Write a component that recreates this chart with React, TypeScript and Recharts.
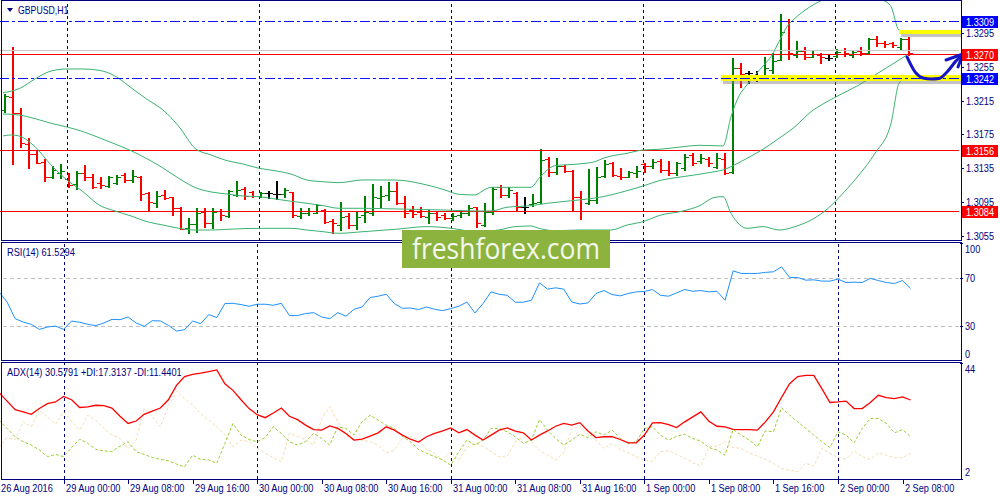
import React from 'react';
import { ComposedChart, Bar, Line, XAxis, YAxis, ReferenceLine } from 'recharts';

const NAVY = '#000080';
const FONT = "'Liberation Sans', Arial, sans-serif";

const symbolTitle = 'GBPUSD,H1';
const rsiTitle = 'RSI(14) 61.5294';
const adxTitle = 'ADX(14) 30.5791 +DI:17.3137 -DI:11.4401';
const watermarkText = 'freshforex.com';

const SLOTS = 120;

const timeLabels = [
  '26 Aug 2016', '29 Aug 00:00', '29 Aug 08:00', '29 Aug 16:00', '30 Aug 00:00',
  '30 Aug 08:00', '30 Aug 16:00', '31 Aug 00:00', '31 Aug 08:00', '31 Aug 16:00',
  '1 Sep 00:00', '1 Sep 08:00', '1 Sep 16:00', '2 Sep 00:00', '2 Sep 08:00',
];
const timeLabelIdx = [0, 8, 16, 24, 32, 40, 48, 56, 64, 72, 80, 88, 96, 104, 112];
const dayStartIdx = [8, 32, 56, 80, 104];

// [open, high, low, close]
const bars: [number, number, number, number][] = [
  [1.32038, 1.32223, 1.32018, 1.32207],
  [1.32195, 1.32786, 1.31400, 1.32006],
  [1.31998, 1.32058, 1.31604, 1.31644],
  [1.31636, 1.31711, 1.31356, 1.31514],
  [1.31514, 1.31565, 1.31407, 1.31415],
  [1.31423, 1.31455, 1.31203, 1.31250],
  [1.31242, 1.31380, 1.31230, 1.31329],
  [1.31289, 1.31400, 1.31230, 1.31321],
  [1.31218, 1.31297, 1.31132, 1.31151],
  [1.31163, 1.31321, 1.31108, 1.31289],
  [1.31289, 1.31388, 1.31210, 1.31242],
  [1.31250, 1.31281, 1.31112, 1.31132],
  [1.31171, 1.31250, 1.31120, 1.31151],
  [1.31143, 1.31262, 1.31132, 1.31246],
  [1.31171, 1.31270, 1.31159, 1.31250],
  [1.31270, 1.31289, 1.31191, 1.31210],
  [1.31210, 1.31329, 1.31191, 1.31258],
  [1.31250, 1.31258, 1.30974, 1.31045],
  [1.31053, 1.31065, 1.30848, 1.30954],
  [1.30943, 1.31080, 1.30887, 1.31025],
  [1.31033, 1.31092, 1.30982, 1.31002],
  [1.31006, 1.31013, 1.30797, 1.30876],
  [1.30876, 1.30887, 1.30627, 1.30635],
  [1.30639, 1.30757, 1.30580, 1.30686],
  [1.30690, 1.30883, 1.30592, 1.30824],
  [1.30832, 1.30876, 1.30659, 1.30706],
  [1.30706, 1.30876, 1.30639, 1.30836],
  [1.30848, 1.30864, 1.30738, 1.30797],
  [1.30785, 1.31092, 1.30777, 1.31080],
  [1.31033, 1.31199, 1.31021, 1.31092],
  [1.31104, 1.31124, 1.30990, 1.31021],
  [1.31069, 1.31080, 1.31013, 1.31021],
  [1.31021, 1.31073, 1.31013, 1.31061],
  [1.31053, 1.31084, 1.31002, 1.31053],
  [1.31045, 1.31199, 1.30982, 1.31045],
  [1.31045, 1.31112, 1.31006, 1.31092],
  [1.31069, 1.31073, 1.30777, 1.30797],
  [1.30785, 1.30876, 1.30757, 1.30816],
  [1.30816, 1.30876, 1.30797, 1.30848],
  [1.30824, 1.30927, 1.30816, 1.30915],
  [1.30856, 1.30864, 1.30706, 1.30718],
  [1.30726, 1.30745, 1.30580, 1.30698],
  [1.30678, 1.30954, 1.30619, 1.30777],
  [1.30785, 1.30816, 1.30639, 1.30678],
  [1.30679, 1.30836, 1.30627, 1.30777],
  [1.30797, 1.31025, 1.30718, 1.30836],
  [1.30816, 1.31163, 1.30797, 1.31013],
  [1.30994, 1.31139, 1.30887, 1.31021],
  [1.31033, 1.31191, 1.30974, 1.31084],
  [1.31084, 1.31191, 1.30927, 1.30943],
  [1.30935, 1.31025, 1.30777, 1.30816],
  [1.30856, 1.30903, 1.30777, 1.30809],
  [1.30828, 1.30887, 1.30769, 1.30789],
  [1.30777, 1.30856, 1.30706, 1.30816],
  [1.30816, 1.30836, 1.30738, 1.30769],
  [1.30797, 1.30816, 1.30745, 1.30757],
  [1.30757, 1.30816, 1.30738, 1.30789],
  [1.30797, 1.30856, 1.30769, 1.30824],
  [1.30816, 1.30915, 1.30797, 1.30883],
  [1.30887, 1.30895, 1.30651, 1.30698],
  [1.30679, 1.30943, 1.30667, 1.30836],
  [1.30836, 1.31124, 1.30809, 1.31100],
  [1.31124, 1.31151, 1.31013, 1.31033],
  [1.31033, 1.31124, 1.31013, 1.31092],
  [1.31061, 1.31065, 1.30848, 1.30887],
  [1.30887, 1.31006, 1.30824, 1.30887],
  [1.30927, 1.31041, 1.30903, 1.30943],
  [1.30954, 1.31573, 1.30935, 1.31447],
  [1.31455, 1.31478, 1.31262, 1.31309],
  [1.31309, 1.31467, 1.31281, 1.31376],
  [1.31376, 1.31388, 1.31309, 1.31321],
  [1.31321, 1.31329, 1.30848, 1.31006],
  [1.31013, 1.31084, 1.30745, 1.30982],
  [1.30943, 1.31340, 1.30927, 1.30974],
  [1.30974, 1.31360, 1.30935, 1.31250],
  [1.31258, 1.31447, 1.31250, 1.31400],
  [1.31415, 1.31427, 1.31258, 1.31270],
  [1.31258, 1.31348, 1.31218, 1.31242],
  [1.31250, 1.31321, 1.31242, 1.31309],
  [1.31297, 1.31376, 1.31250, 1.31321],
  [1.31400, 1.31415, 1.31309, 1.31376],
  [1.31376, 1.31455, 1.31348, 1.31427],
  [1.31439, 1.31455, 1.31309, 1.31329],
  [1.31329, 1.31435, 1.31270, 1.31297],
  [1.31289, 1.31427, 1.31270, 1.31407],
  [1.31348, 1.31514, 1.31329, 1.31486],
  [1.31506, 1.31526, 1.31388, 1.31415],
  [1.31439, 1.31518, 1.31415, 1.31467],
  [1.31455, 1.31486, 1.31376, 1.31415],
  [1.31368, 1.31526, 1.31348, 1.31467],
  [1.31455, 1.31534, 1.31281, 1.31297],
  [1.31309, 1.32656, 1.31297, 1.32530],
  [1.32530, 1.32597, 1.32314, 1.32463],
  [1.32471, 1.32503, 1.32361, 1.32471],
  [1.32440, 1.32503, 1.32385, 1.32440],
  [1.32432, 1.32660, 1.32400, 1.32530],
  [1.32511, 1.32708, 1.32479, 1.32621],
  [1.32629, 1.33173, 1.32629, 1.32964],
  [1.33094, 1.33109, 1.32637, 1.32708],
  [1.32688, 1.32853, 1.32668, 1.32739],
  [1.32739, 1.32779, 1.32637, 1.32668],
  [1.32668, 1.32747, 1.32660, 1.32700],
  [1.32688, 1.32708, 1.32589, 1.32660],
  [1.32656, 1.32688, 1.32629, 1.32656],
  [1.32676, 1.32755, 1.32668, 1.32727],
  [1.32747, 1.32767, 1.32676, 1.32708],
  [1.32688, 1.32747, 1.32668, 1.32727],
  [1.32739, 1.32779, 1.32684, 1.32715],
  [1.32715, 1.32885, 1.32708, 1.32873],
  [1.32873, 1.32913, 1.32794, 1.32834],
  [1.32834, 1.32857, 1.32779, 1.32814],
  [1.32826, 1.32846, 1.32786, 1.32806],
  [1.32779, 1.32885, 1.32747, 1.32873],
  [1.32873, 1.32905, 1.32688, 1.32708],
];

// Bollinger bands, read at bar indices: [index, price]
const bbUpper: [number, number][] = [
  [0, 1.32243], [2, 1.32290], [4, 1.32405], [6, 1.32499], [8, 1.32523], [10, 1.32523],
  [12, 1.32508], [14, 1.32440], [16, 1.32302], [18, 1.32165], [20, 1.32038], [22, 1.31841],
  [24, 1.31585], [26, 1.31506], [28, 1.31439], [30, 1.31400], [32, 1.31349], [34, 1.31320],
  [36, 1.31281], [38, 1.31210], [40, 1.31190], [42, 1.31179], [45, 1.31211], [49, 1.31210],
  [53, 1.31151], [55, 1.31100], [57, 1.31041], [59, 1.31033], [60, 1.31084], [61, 1.31124],
  [66, 1.31124], [67, 1.31230], [69, 1.31380], [72, 1.31400], [74, 1.31427], [75, 1.31467],
  [78, 1.31526], [80, 1.31565], [82, 1.31573], [85, 1.31604], [87, 1.31621], [90, 1.31613],
  [91, 1.31959], [92, 1.32204], [93, 1.32334], [95, 1.32559], [96, 1.32669], [97, 1.32846],
  [98, 1.33023], [99, 1.33123], [100, 1.33201], [102, 1.33319], [104, 1.33398], [106, 1.33434],
  [108, 1.33420], [110, 1.33339], [111, 1.33260], [112, 1.32984], [113, 1.32961],
];
const bbMiddle: [number, number][] = [
  [0, 1.31991], [2, 1.31979], [4, 1.31936], [6, 1.31881], [8, 1.31837], [10, 1.31782],
  [12, 1.31711], [14, 1.31636], [16, 1.31557], [18, 1.31462], [20, 1.31352], [22, 1.31228],
  [24, 1.31122], [26, 1.31069], [28, 1.31045], [30, 1.31021], [32, 1.31013], [34, 1.30986],
  [36, 1.30959], [38, 1.30935], [40, 1.30907], [42, 1.30876], [45, 1.30876], [49, 1.30868],
  [55, 1.30856], [59, 1.30844], [61, 1.30844], [63, 1.30888], [66, 1.30907], [68, 1.30935],
  [72, 1.30974], [75, 1.31013], [78, 1.31084], [80, 1.31139], [82, 1.31202], [85, 1.31250],
  [89, 1.31309], [90, 1.31329], [91, 1.31368], [93, 1.31467], [95, 1.31574], [97, 1.31704],
  [99, 1.31841], [101, 1.32018], [103, 1.32136], [105, 1.32236], [107, 1.32334], [109, 1.32452],
  [111, 1.32570], [113, 1.32689],
];
const bbLower: [number, number][] = [
  [0, 1.31731], [1, 1.31743], [2, 1.31731], [4, 1.31604], [6, 1.31388], [8, 1.31210],
  [10, 1.31072], [12, 1.30915], [14, 1.30844], [16, 1.30785], [18, 1.30717], [20, 1.30678],
  [22, 1.30639], [24, 1.30619], [26, 1.30619], [28, 1.30627], [30, 1.30635], [32, 1.30639],
  [36, 1.30639], [38, 1.30619], [40, 1.30599], [42, 1.30580], [45, 1.30599], [49, 1.30627],
  [53, 1.30659], [56, 1.30640], [59, 1.30600], [62, 1.30620], [64, 1.30659], [66, 1.30667],
  [67, 1.30639], [69, 1.30610], [72, 1.30619], [76, 1.30619], [78, 1.30678], [80, 1.30717],
  [82, 1.30790], [85, 1.30844], [87, 1.30903], [89, 1.31006], [90, 1.31013], [91, 1.30817],
  [92, 1.30690], [93, 1.30639], [95, 1.30659], [97, 1.30619], [99, 1.30659], [101, 1.30737],
  [103, 1.30864], [105, 1.31053], [107, 1.31270], [109, 1.31526], [111, 1.31881], [112, 1.32354],
  [113, 1.32432],
];

const rsiValues = [
  58.6, 50.0, 35.9, 33.0, 31.1, 26.8, 28.8, 29.6, 26.8, 33.9,
  32.8, 31.1, 30.0, 32.2, 35.3, 35.0, 37.3, 32.2, 29.4, 34.2,
  33.9, 30.2, 25.4, 26.5, 33.9, 31.6, 39.3, 36.8, 48.7, 48.9,
  47.8, 46.4, 48.1, 48.1, 47.2, 48.9, 38.5, 38.5, 40.2, 41.0,
  37.3, 35.9, 41.0, 37.9, 43.8, 45.8, 53.8, 54.9, 56.6, 48.7,
  44.7, 44.9, 43.6, 45.8, 43.8, 42.7, 44.4, 46.4, 50.0, 40.7,
  48.7, 58.6, 56.5, 55.7, 49.8, 49.8, 51.5, 66.2, 60.9, 62.0,
  60.9, 50.0, 48.3, 49.2, 57.2, 59.7, 56.3, 55.2, 57.2, 58.6,
  58.9, 60.6, 55.7, 54.9, 57.7, 60.6, 59.1, 59.7, 58.6, 59.1,
  51.5, 76.4, 74.2, 74.2, 74.2, 75.1, 75.6, 79.8, 70.8, 70.8,
  68.5, 68.8, 67.7, 67.7, 69.4, 66.5, 66.8, 66.5, 70.0, 68.2,
  66.5, 65.7, 68.2, 61.5,
];

const adxValues = [
  33.3, 30.2, 27.1, 26.3, 25.4, 27.5, 29.3, 29.9, 31.9, 30.7,
  27.9, 28.1, 28.7, 28.6, 27.7, 24.7, 22.1, 23.0, 25.4, 26.6,
  27.7, 30.7, 35.9, 39.1, 39.9, 40.3, 40.9, 41.5, 36.5, 34.1,
  30.7, 27.5, 25.3, 24.2, 25.9, 27.7, 24.7, 23.5, 21.5, 19.9,
  19.7, 21.2, 20.3, 18.5, 16.1, 16.4, 17.5, 18.7, 20.9, 19.7,
  17.9, 16.4, 15.4, 17.3, 18.5, 19.4, 20.5, 18.7, 19.9, 17.9,
  16.1, 17.9, 19.7, 20.5, 19.3, 18.7, 16.1, 17.9, 19.4, 21.1,
  22.1, 21.5, 22.4, 19.4, 17.0, 17.3, 17.3, 16.3, 15.1, 15.1,
  17.9, 22.3, 22.4, 21.7, 20.6, 22.7, 24.5, 26.3, 22.9, 21.1,
  20.9, 20.0, 19.9, 19.9, 19.7, 22.7, 26.3, 31.5, 36.5, 39.1,
  39.5, 39.5, 34.7, 29.7, 29.9, 30.2, 27.5, 27.5, 29.7, 32.3,
  31.5, 31.1, 31.7, 30.6,
];

const plusDiValues = [
  23.3, 20.3, 17.3, 15.5, 14.3, 12.5, 10.1, 10.9, 10.1, 13.4,
  16.4, 14.9, 12.7, 12.2, 11.9, 13.9, 15.5, 11.9, 10.9, 9.8,
  9.1, 8.6, 7.4, 6.4, 10.6, 9.1, 8.9, 7.7, 14.9, 22.1,
  17.9, 16.3, 15.5, 17.0, 20.9, 18.5, 15.5, 14.3, 15.5, 18.5,
  16.7, 14.3, 20.9, 20.3, 17.9, 22.7, 25.1, 23.3, 21.5, 20.3,
  17.5, 15.5, 12.7, 11.3, 10.1, 8.9, 7.0, 11.9, 16.1, 14.3,
  16.1, 20.3, 20.3, 19.1, 17.3, 14.9, 16.1, 23.5, 19.7, 16.7,
  14.3, 16.1, 18.2, 17.0, 19.1, 17.9, 19.7, 16.7, 14.9, 15.5,
  20.3, 20.9, 17.9, 16.1, 17.5, 18.2, 16.7, 15.7, 13.4, 12.5,
  10.6, 19.9, 17.9, 16.1, 13.7, 19.4, 19.1, 27.8, 25.1, 22.7,
  20.3, 17.9, 15.5, 13.4, 19.1, 17.9, 15.1, 20.3, 23.9, 23.9,
  22.1, 18.7, 19.9, 17.3,
];

const minusDiValues = [
  13.4, 17.0, 16.3, 22.7, 20.9, 26.9, 24.5, 21.8, 26.3, 22.7,
  19.7, 25.1, 23.3, 20.3, 17.9, 16.7, 13.1, 16.1, 27.5, 24.5,
  20.9, 28.3, 33.8, 31.1, 28.7, 25.7, 23.3, 20.9, 17.9, 13.7,
  16.1, 15.5, 13.1, 11.3, 9.8, 8.3, 18.5, 17.5, 16.1, 14.3,
  23.9, 28.3, 22.7, 17.9, 16.1, 16.1, 15.5, 14.3, 11.5, 12.5,
  16.7, 17.5, 16.1, 12.7, 11.3, 8.9, 11.9, 8.9, 13.4, 14.9,
  13.9, 11.9, 10.1, 10.3, 15.5, 17.3, 15.5, 12.2, 10.6, 8.9,
  11.5, 20.3, 20.9, 18.2, 16.1, 13.1, 14.9, 12.7, 11.5, 10.1,
  8.9, 8.3, 11.9, 12.2, 10.9, 9.5, 7.9, 6.7, 13.7, 13.9,
  15.5, 13.4, 13.1, 11.5, 10.3, 9.1, 7.7, 5.8, 5.2, 4.6,
  7.7, 6.7, 13.1, 11.3, 9.8, 9.3, 12.2, 10.1, 9.1, 11.5,
  10.6, 9.7, 9.7, 11.4,
];

// hand-drawn forecast arrow: [index, price]
const arrowPath: [number, number][] = [
  [113, 1.32665], [114, 1.32488], [115, 1.32417], [116, 1.32405],
  [117, 1.32411], [118, 1.32488], [119, 1.32606],
];

const priceTicks = [1.3295, 1.3255, 1.3215, 1.3175, 1.3135, 1.3095, 1.3055];
const redLevels = [1.3270, 1.3156, 1.3084];
const blueLevels = [1.3309, 1.3242];
const askLevel = 1.32748;
const supportZone = 1.3242;
const resistZone = 1.32964;
const rsiTicks = [0, 30, 70, 100];
const rsiLevels = [30, 70];
const adxTicks = [2, 44];

const upMap = new Map(bbUpper);
const midMap = new Map(bbMiddle);
const lowMap = new Map(bbLower);
const arrowMap = new Map(arrowPath);

const rows = Array.from({ length: SLOTS }, (_, i) => {
  const b = bars[i];
  return {
    i,
    range: b ? [b[2], b[1]] : null,
    o: b ? b[0] : null,
    h: b ? b[1] : null,
    l: b ? b[2] : null,
    c: b ? b[3] : null,
    bbU: upMap.has(i) ? upMap.get(i) : null,
    bbM: midMap.has(i) ? midMap.get(i) : null,
    bbL: lowMap.has(i) ? lowMap.get(i) : null,
    rsi: i < rsiValues.length ? rsiValues[i] : null,
    adx: i < adxValues.length ? adxValues[i] : null,
    pdi: i < plusDiValues.length ? plusDiValues[i] : null,
    mdi: i < minusDiValues.length ? minusDiValues[i] : null,
    arrow: arrowMap.has(i) ? arrowMap.get(i) : null,
  };
});

// approximate glyph advance widths of the compact terminal font (px at 11px)
const glyphW = (ch: string): number => {
  if (/[0-9]/.test(ch)) return 5.1;
  if ('.,:; '.includes(ch)) return 2.5;
  if ('()-'.includes(ch)) return 3.4;
  if (ch === '+') return 6;
  if (ch === 'I') return 3;
  if (/[A-Z]/.test(ch)) return 6.1;
  return 5.1;
};
const textW = (s: string) => s.split('').reduce((a, ch) => a + glyphW(ch), 0);

const T = ({ x, y, fill = NAVY, children }: { x: number; y: number; fill?: string; children: string }) => (
  <text x={x} y={y} fill={fill} fontSize={11} fontFamily={FONT} textLength={textW(children)} lengthAdjust="spacingAndGlyphs">
    {children}
  </text>
);

const OhlcShape = (p: any) => {
  const { x, y, width, height, payload } = p;
  if (!payload || payload.h == null) return <g />;
  const { o, h, l, c } = payload;
  const span = h - l;
  const toY = (v: number) => (span > 0 ? y + ((h - v) / span) * height : y);
  const cx = Math.round(x + width / 2);
  const color = c > o ? '#008000' : c < o ? '#FF0000' : '#000000';
  const top = Math.round(y);
  const bottom = Math.round(y + height) + 1;
  const oy = Math.round(toY(o));
  const cy = Math.round(toY(c));
  return (
    <g shapeRendering="crispEdges" fill={color}>
      <rect x={cx} y={top} width={2} height={Math.max(1, bottom - top)} />
      <rect x={cx - 3} y={oy} width={3} height={1} />
      <rect x={cx + 2} y={cy} width={3} height={1} />
    </g>
  );
};

// pixel-snapped straight reference line
const CrispLine = (p: any) => {
  const vertical = Math.abs(p.x1 - p.x2) < 0.01;
  const x1 = vertical ? Math.round(p.x1) + 0.5 : p.x1;
  const x2 = vertical ? Math.round(p.x2) + 0.5 : p.x2;
  const y1 = vertical ? p.y1 : Math.round(p.y1) + 0.5;
  const y2 = vertical ? p.y2 : Math.round(p.y2) + 0.5;
  return (
    <line x1={x1} y1={y1} x2={x2} y2={y2} stroke={p.stroke} strokeWidth={p.strokeWidth || 1} strokeDasharray={p.strokeDasharray} fill="none" />
  );
};

const PriceTick = (props: any) => {
  const { x, y, payload } = props;
  const v = payload.value as number;
  const label = v.toFixed(4);
  const yy = Math.round(y);
  const isRed = redLevels.includes(v);
  const isBlue = blueLevels.includes(v);
  if (isRed || isBlue) {
    return (
      <g>
        <rect x={x + 3} y={yy - 5} width={36} height={12} fill={isRed ? '#FF0000' : '#0000FF'} />
        <T x={x + 7} y={yy + 5} fill="#FFFFFF">{label}</T>
      </g>
    );
  }
  return (
    <g>
      <line x1={x + 2} x2={x + 5} y1={yy + 0.5} y2={yy + 0.5} stroke={NAVY} />
      <T x={x + 7} y={yy + 4}>{label}</T>
    </g>
  );
};

const makeScaleTick = (top: number, bottom: number) => (props: any) => {
  const { x, y, payload } = props;
  const v = payload.value as number;
  const dy = v === top ? 6 : v === bottom ? -7 : 0;
  const yy = Math.round(y);
  return (
    <g>
      <line x1={x + 1} x2={x + 4} y1={yy + 0.5} y2={yy + 0.5} stroke={NAVY} />
      <T x={x + 6} y={yy + dy + 4}>{String(v)}</T>
    </g>
  );
};

const TimeTick = (p: any) => {
  const idx = timeLabelIdx.indexOf(p.payload.value);
  const tx = Math.round(p.x) + 0.5;
  return (
    <g>
      <line x1={tx} x2={tx} y1={p.y} y2={p.y + 5} stroke={NAVY} />
      <T x={Math.round(p.x) + 2} y={p.y + 13}>{idx >= 0 ? timeLabels[idx] : ''}</T>
    </g>
  );
};

const zoneShape = (padLeft: number, padRight: number, w: number) => (p: any) => {
  const y = Math.round(p.y1);
  return (
    <g>
      <line x1={p.x1 - padLeft + 2} y1={y + 3} x2={p.x2 + padRight} y2={y + 3} stroke="#7a7a7a" strokeOpacity={0.45} strokeWidth={w} />
      <line x1={p.x1 - padLeft} y1={y} x2={p.x2 + padRight} y2={y} stroke="#FFFF00" strokeWidth={w} />
    </g>
  );
};

const ArrowDot = (p: any) => {
  if (p.index !== SLOTS - 1 || p.cx == null || p.cy == null) return <g key={`ad-${p.index}`} />;
  const tx = p.cx + 8;
  const ty = p.cy - 8;
  return (
    <g key="arrowhead" stroke="#1515C8" strokeWidth={3} strokeLinecap="round" fill="none">
      <line x1={p.cx} y1={p.cy} x2={tx} y2={ty} />
      <line x1={tx} y1={ty} x2={tx - 17} y2={ty + 6} />
      <line x1={tx} y1={ty} x2={tx - 5} y2={ty + 13} />
    </g>
  );
};

const dayLines = (prefix: string) =>
  dayStartIdx.map((d) => (
    <ReferenceLine key={`${prefix}-${d}`} x={d} stroke={NAVY} strokeDasharray="3 3" strokeWidth={1} shape={CrispLine} />
  ));

const CHART_W = 1001;
const YW = 41;

export default function App() {
  return (
    <div style={{ position: 'absolute', left: 0, top: 0, width: 1000, height: 500, background: '#FFFFFF', overflow: 'hidden' }}>
      {/* Main price panel */}
      <div style={{ position: 'absolute', left: -1, top: 0 }}>
        <ComposedChart width={CHART_W} height={241} data={rows} margin={{ top: 1, right: 0, bottom: 0, left: 0 }}>
          <XAxis dataKey="i" type="category" hide />
          <YAxis
            orientation="right"
            width={YW}
            type="number"
            domain={[1.30489, 1.33327]}
            allowDataOverflow
            ticks={[...priceTicks, ...redLevels, ...blueLevels]}
            interval={0}
            tick={PriceTick}
            tickLine={false}
            axisLine={false}
            tickSize={0}
            tickMargin={0}
          />
          {dayLines('m')}
          <ReferenceLine y={askLevel} stroke="#C8C8C8" strokeWidth={1} shape={CrispLine} />
          {redLevels.map((v) => (
            <ReferenceLine key={`r-${v}`} y={v} stroke="#FF0000" strokeWidth={1} shape={CrispLine} />
          ))}
          <Line dataKey="bbU" stroke="#3CB371" strokeWidth={1} dot={false} connectNulls type="monotone" isAnimationActive={false} />
          <Line dataKey="bbM" stroke="#3CB371" strokeWidth={1} dot={false} connectNulls type="monotone" isAnimationActive={false} />
          <Line dataKey="bbL" stroke="#3CB371" strokeWidth={1} dot={false} connectNulls type="monotone" isAnimationActive={false} />
          <Bar dataKey="range" shape={OhlcShape} barSize={7} isAnimationActive={false} />
          <ReferenceLine
            segment={[{ x: 90, y: supportZone }, { x: SLOTS - 1, y: supportZone }]}
            shape={zoneShape(2, 6, 6)}
          />
          <ReferenceLine
            segment={[{ x: 112, y: resistZone }, { x: SLOTS - 1, y: resistZone }]}
            shape={zoneShape(0, 6, 4)}
          />
          {blueLevels.map((v) => (
            <ReferenceLine key={`b-${v}`} y={v} stroke="#1010FF" strokeWidth={1} strokeDasharray="10 3 3 3" shape={CrispLine} />
          ))}
          <Line dataKey="arrow" stroke="#1515C8" strokeWidth={3} strokeLinecap="round" dot={ArrowDot} type="monotone" isAnimationActive={false} />
        </ComposedChart>
      </div>

      {/* RSI panel */}
      <div style={{ position: 'absolute', left: -1, top: 242 }}>
        <ComposedChart width={CHART_W} height={119} data={rows} margin={{ top: 1, right: 0, bottom: 0, left: 0 }}>
          <XAxis dataKey="i" type="category" hide />
          <YAxis
            orientation="right"
            width={YW}
            type="number"
            domain={[0, 100]}
            allowDataOverflow
            ticks={rsiTicks}
            interval={0}
            tick={makeScaleTick(100, 0)}
            tickLine={false}
            axisLine={false}
            tickSize={0}
            tickMargin={0}
          />
          {dayLines('r')}
          {rsiLevels.map((v) => (
            <ReferenceLine key={`rl-${v}`} y={v} stroke="#C0C0C0" strokeDasharray="4 3" strokeWidth={1} shape={CrispLine} />
          ))}
          <Line dataKey="rsi" stroke="#1E90FF" strokeWidth={1} dot={false} type="linear" isAnimationActive={false} />
        </ComposedChart>
      </div>

      {/* ADX panel */}
      <div style={{ position: 'absolute', left: -1, top: 362 }}>
        <ComposedChart width={CHART_W} height={138} data={rows} margin={{ top: 1, right: 0, bottom: 0, left: 0 }}>
          <XAxis
            dataKey="i"
            type="category"
            height={21}
            ticks={timeLabelIdx}
            interval={0}
            tick={TimeTick}
            tickLine={false}
            axisLine={false}
            tickSize={0}
            tickMargin={0}
          />
          <YAxis
            orientation="right"
            width={YW}
            type="number"
            domain={[2, 44]}
            allowDataOverflow
            ticks={adxTicks}
            interval={0}
            tick={makeScaleTick(44, 2)}
            tickLine={false}
            axisLine={false}
            tickSize={0}
            tickMargin={0}
          />
          {dayLines('a')}
          <Line dataKey="mdi" stroke="#F5DEB3" strokeWidth={1} strokeDasharray="3 2" dot={false} type="linear" isAnimationActive={false} />
          <Line dataKey="pdi" stroke="#9ACD32" strokeWidth={1} strokeDasharray="3 2" dot={false} type="linear" isAnimationActive={false} />
          <Line dataKey="adx" stroke="#FF0000" strokeWidth={1.3} dot={false} type="linear" isAnimationActive={false} />
        </ComposedChart>
      </div>

      {/* frames, titles, watermark */}
      <svg width={1000} height={500} style={{ position: 'absolute', left: 0, top: 0, pointerEvents: 'none' }}>
        <rect x={1.5} y={0.5} width={960} height={240} fill="none" stroke={NAVY} strokeWidth={1} />
        <rect x={1.5} y={242.5} width={960} height={118} fill="none" stroke={NAVY} strokeWidth={1} />
        <rect x={1.5} y={362.5} width={960} height={117} fill="none" stroke={NAVY} strokeWidth={1} />
        <polygon points="7,8 13,8 10,12" fill={NAVY} />
        <T x={18} y={14}>{symbolTitle}</T>
        <T x={7} y={256}>{rsiTitle}</T>
        <T x={7} y={376}>{adxTitle}</T>
        <rect x={402} y={230} width={208} height={38} fill="#8DB33F" />
        <text x={412} y={259} fill="#F3F7EC" fontSize={30} fontFamily="'Open Sans', 'Noto Sans', sans-serif" textLength={188} lengthAdjust="spacingAndGlyphs">
          {watermarkText}
        </text>
      </svg>
    </div>
  );
}
